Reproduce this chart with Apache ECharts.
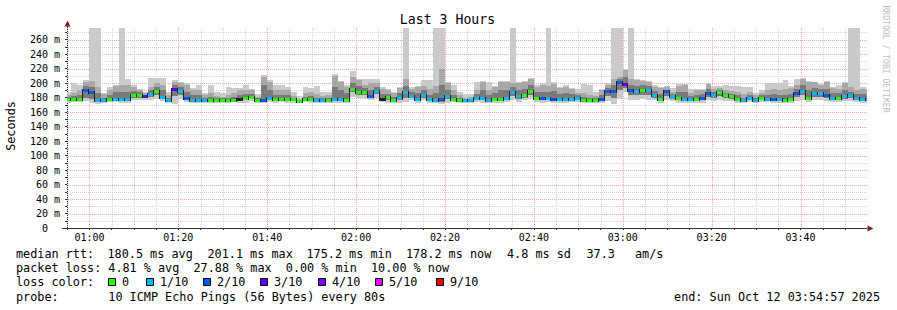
<!DOCTYPE html>
<html><head><meta charset="utf-8">
<script src="https://cdn.jsdelivr.net/npm/echarts@6/dist/echarts.min.js"></script>
<style>html,body{margin:0;padding:0;background:#fff}#c{width:897px;height:310px}</style>
</head><body><div id="c"></div>
<script>
// ---------------- data ----------------
const firstSampleTime = 3277;   // seconds of day of first sample (00:54:37)
const stepSeconds = 80;
const axisStart = 3297;         // 00:54:57
const axisEnd = 14097;          // 03:54:57

const median = [178,178,178,190,187,177,176,178,178,178,
 178,183,183.5,182.5,185,189,181,176.5,192.5,189.5,
 179,176.5,176.5,176.5,177,176.5,176.5,177,177,178,
 179.5,180.5,177,176.5,179,177.5,177.5,178.5,177.5,175.2,
 177.5,177.5,176.5,176.5,176.5,178,178,176.5,192.5,188,
 188,182,189.5,178,181,176.5,180,187,182,178,
 183.5,177.5,176.5,177.5,182,178.5,176.5,176,176,180,
 179,176.5,178.5,178.5,179,188,182,183,188.5,180,
 179.5,180,178.5,178.5,178,178.5,179.5,176.5,176.5,176.5,
 178,188.5,189,201.1,199,190,188.5,191,190,183,
 178.5,188.5,182,180,177.5,178,178.5,180,186.5,183,
 187.5,183,182,178.5,176.5,180,176.5,180,178.5,178.5,
 177.5,176.5,178.5,186.5,189.5,179.5,186,186,183,179,
 180,182,183,180,178.5,178.2];

const lossCount = [0,0,0,2,2,1,1,0,1,1,
 1,0,0,3,1,0,1,1,3,1,
 2,1,1,1,0,0,0,0,0,-1,
 0,0,0,2,1,0,0,0,0,0,
 0,0,1,1,0,1,1,0,0,0,
 0,2,1,-1,0,0,1,1,1,1,
 1,1,1,2,1,0,0,1,1,1,
 1,1,0,0,1,1,1,0,0,0,
 2,1,2,1,1,1,1,0,0,0,
 2,2,2,2,3,2,1,0,1,1,
 0,2,1,0,1,1,0,2,2,1,
 0,0,0,0,1,1,1,0,1,2,
 1,0,0,2,1,0,1,1,2,1,
 0,1,1,1,1,1];

const smokeTop1 = [188,200,197,204,276,276,186,194,198,276,
 205,198,192,188,207,207,207,188,204,202,
 200,193,197,186,197,188,186,194,193,193,
 197,192,185,211,204,197,197,195,187,182,
 194,193,196,187,188,212,203,197,217,206,
 206,206,206,195,192,187,194,276,194,196,
 204,204,276,276,202,197,188,185,185,202,
 203,202,196,203,203,276,202,203,207,197,
 200,276,201,195,197,193,192,199,197,188,
 192,200,276,276,219,276,205,204,203,197,
 195,196,193,199,199,192,192,192,200,196,
 196,197,196,196,195,195,186,190,200,200,
 200,204,196,206,207,203,202,199,203,195,
 198,201,276,276,194,192];

const smokeTop2 = [184,186,190,202,203,195,185,190,196,198,
 197,195,190,186,195,200,198,183,202,200,
 198,191,190,184,186,182,181,184,186,191,
 190,190,181,209,202,191,191,190,182,178.5,
 186,188,185,182,183,210,201,195,208,204,
 198,200,200,192,190,186,193,205,192,194,
 196,192,196,219,200,190,184,180,181,190,
 201,190,194,201,201,200,200,201,206,195,
 198,196,199,193,195,192,186,186,184,182,
 190,198,205,208,218,205,204,203,202,195,
 193,194,188,196,198,186,190,190,198.5,192,
 193,190,189,188,185,188,184,186,190,192,
 190,192,193,198,205,202,201,198,202,193,
 192,200,194,190,192,190];

const smokeTop3 = [181,182,184,196,195,186,180,184,187,188,
 187,189,187,184,190,194,190,179,198,195,
 188,184,183,180,181,179,179,180,181,184,
 185,185,179,197,191,184,184,184,180,177,
 181,182,180,179,179,194,190,186,200,196,
 193,191,195,185,185,181,186,196,187,186,
 190,184,186,198,191,184,180,178,178,185,
 190,183,186,190,190,194,191,192,197,187,
 188,188,189,185,186,185,183,181,180,179,
 184,193,197,205,208,197,196,197,196,189,
 185,191,185,188,187,182,184,185,192,187,
 190,186,185,183,180,184,180,183,184,185,
 184,184,185,192,197,190,193,192,192,186,
 186,191,188,185,185,184];

const smokeBot1 = [173,174,174,175,172,171,172,174,174,173,
 173,176,177,176,177,178,175,172,171,178,
 174,173,173,172,173,173,173,173,174,172,
 173,175,173,172,174,173,174,173,173,172,
 174,173,173,173,173,172,173,172,181,179,
 178,176,180,174,173,172,173,174,176,172,
 177,173,172,171,173,174,173,173,173,174,
 173,172,173,172,174,176,174,176,178,174,
 173,174,173,173,173,174,174,173,173,173,
 172,175,171,178,187,176,177,178,177,176,
 173,176,175,173,172,173,173,173,176,175,
 177,175,175,173,173,174,172,174,174,173,
 173,172,173,175,177,174,176,176,175,174,
 174,175,175,174,173,173];

const smokeBot2 = [176,176,176,180,178,174,174,176,176,176,
 176,180,180,179,181,184,178,174,182,184,
 177,175,175,174,175,175,175,175,176,175,
 176,178,175,174,177,175,176,176,175,174,
 176,175,175,175,175,175,176,174,187,184,
 183,179,185,176,177,174,177,180,179,175,
 180,175,174,174,178,176,175,174,174,177,
 176,174,176,175,176,182,178,180,183,177,
 176,177,176,176,175,176,177,175,175,175,
 175,182,180,190,193,183,183,184,183,180,
 176,182,178,176,175,175,176,176,181,179,
 182,179,178,176,175,177,174,177,176,176,
 175,174,176,181,183,177,181,181,179,176,
 177,178,179,177,176,175];

const yTickValues = [0,20,40,60,80,100,120,140,160,180,200,220,240,260];
const xTickLabels = ['01:00','01:20','01:40','02:00','02:20','02:40','03:00','03:20','03:40'];

const lossLegendLabels = ['0','1/10','2/10','3/10','4/10','5/10','9/10'];
const lossLegendColors = ['#26ff00','#00b8ff','#0059ff','#5e00ff','#7e00ff','#dd00ff','#ff0000'];
const lossLegendCounts = [0,1,2,3,4,5,9];

const statsRow1 = ['median rtt:','180.5 ms avg','201.1 ms max','175.2 ms min','178.2 ms now','4.8 ms sd','37.3','am/s'];
const statsRow2 = ['packet loss:','4.81 % avg','27.88 % max','0.00 % min','10.00 % now'];
const probeText = ['probe:','10 ICMP Echo Pings (56 Bytes) every 80s'];
const endText = 'end: Sun Oct 12 03:54:57 2025';

// ---------------- styling / layout ----------------
const MONO = '"DejaVu Sans Mono", "Liberation Mono", monospace';
const SMOKE_COLORS = ['#cacaca', '#a8a8a8', '#7a7a7a'];
const lossColorOf = {};
lossLegendCounts.forEach((c, i) => lossColorOf[c] = lossLegendColors[i]);
lossColorOf[-1] = '#202020';

function hm(s) { const p = s.split(':'); return (+p[0]) * 3600 + (+p[1]) * 60; }
function fmt(v) { const h = Math.floor(v / 3600), m = Math.floor((v % 3600) / 60); return String(h).padStart(2,'0') + ':' + String(m).padStart(2,'0'); }
const xTickValues = xTickLabels.map(hm);

const stepStarts = median.map((_, i) => firstSampleTime + i * stepSeconds);
const smokeData = median.map((m, i) => [stepStarts[i], stepStarts[i] + stepSeconds, smokeBot1[i], smokeTop1[i], smokeBot2[i], smokeTop2[i], smokeTop3[i]]);
const medianData = median.map((m, i) => [stepStarts[i], stepStarts[i] + stepSeconds, m, lossCount[i], i > 0 ? median[i - 1] : m]);

// grid line positions (axis ticks)
const gridData = [];
for (let v = 3300; v <= 13800; v += 300) gridData.push([v, 0, ((v - 3600) % 1200 === 0) ? 1 : 0]);
for (let v = 10; v <= 270; v += 10) gridData.push([v, 1, (v % 20 === 0) ? 1 : 0]);
const yMinorTicks = [];
for (let v = 0; v <= 270; v += 10) yMinorTicks.push(v);
const xMinorTicks = gridData.filter(d => d[1] === 0).map(d => d[0]);

function boxOf(cs) { return { x: cs.x, y: cs.y, width: cs.width, height: cs.height }; }

function smokeItem(params, api) {
  const box = boxOf(params.coordSys);
  const t0 = api.value(0), t1 = api.value(1);
  const layers = [[api.value(2), api.value(3), SMOKE_COLORS[0]],
                  [api.value(4), api.value(5), SMOKE_COLORS[1]],
                  [api.value(4), api.value(6), SMOKE_COLORS[2]]];
  const children = [];
  layers.forEach(([lo, hi, c]) => {
    const a = api.coord([t0, hi]), b = api.coord([t1, lo]);
    const x0 = Math.round(a[0]), x1 = Math.round(b[0]);
    const y0 = Math.round(a[1]), y1 = Math.round(b[1]);
    const r = echarts.graphic.clipRectByRect({ x: x0, y: y0, width: x1 - x0, height: y1 - y0 }, box);
    if (r) children.push({ type: 'rect', shape: r, style: { fill: c } });
  });
  return { type: 'group', children };
}

function medianItem(params, api) {
  const box = boxOf(params.coordSys);
  const t0 = api.value(0), t1 = api.value(1), m = api.value(2), l = api.value(3), prev = api.value(4);
  const a = api.coord([t0, m]), b = api.coord([t1, m]), pp = api.coord([t0, prev]);
  const x0 = Math.round(a[0]), x1 = Math.round(b[0]);
  const y = Math.round(a[1]), yp = Math.round(pp[1]);
  const children = [];
  const vy0 = Math.min(y, yp) - 1, vy1 = Math.max(y, yp) + 2;
  const v = echarts.graphic.clipRectByRect({ x: x0 - 1, y: vy0, width: 1, height: vy1 - vy0 }, box);
  if (v) children.push({ type: 'rect', shape: v, style: { fill: '#202020' } });
  const h = echarts.graphic.clipRectByRect({ x: x0, y: y - 1, width: x1 - x0, height: 3 }, box);
  if (h) children.push({ type: 'rect', shape: h, style: { fill: lossColorOf[l] || '#202020' } });
  return { type: 'group', children };
}

function gridItem(params, api) {
  const cs = params.coordSys;
  const v = api.value(0), dir = api.value(1), major = api.value(2);
  const style = { stroke: major ? '#f2a6a6' : '#d6d6d6', lineWidth: 1, lineDash: [1, 1] };
  if (dir === 0) {
    const x = Math.round(api.coord([v, 0])[0]) + 0.5;
    return { type: 'line', shape: { x1: x, y1: cs.y, x2: x, y2: cs.y + cs.height }, style };
  }
  const y = Math.round(api.coord([axisStart, v])[1]) + 0.5;
  return { type: 'line', shape: { x1: cs.x + 1, y1: y, x2: cs.x + cs.width, y2: y }, style };
}

// ---------------- chart ----------------
const chart = echarts.init(document.getElementById('c'), null, { renderer: 'svg' });

const graphics = [];
function txt(x, y, s, opts) {
  graphics.push(Object.assign({ type: 'text', x, y, silent: true,
    style: Object.assign({ text: s, font: '11.8px ' + MONO, fill: '#000', align: 'left', verticalAlign: 'middle' }, (opts && opts.style) || {}) },
    (opts && opts.rotation !== undefined) ? { rotation: opts.rotation } : {}));
}
txt(447.5, 19.5, 'Last 3 Hours', { style: { font: '13.2px ' + MONO, align: 'center' } });
txt(11, 126, 'Seconds', { rotation: Math.PI / 2, style: { align: 'center' } });
txt(886, 59, 'RRDTOOL / TOBI OETIKER', { rotation: -Math.PI / 2, style: { font: '8.1px ' + MONO, align: 'center', fill: '#bdbdbd' } });

const row1X = [16, 107.5, 207.5, 306.5, 406, 507, 586.5, 635];
statsRow1.forEach((s, i) => txt(row1X[i], 254, s));
const row2X = [16, 108.3, 193.5, 285.8, 371];
statsRow2.forEach((s, i) => txt(row2X[i], 268.2, s));
txt(16, 282.2, 'loss color:');
const boxX = [108, 146, 203, 260, 318, 375, 436];
lossLegendLabels.forEach((s, i) => {
  graphics.push({ type: 'rect', silent: true, shape: { x: boxX[i] + 0.5, y: 278.5, width: 7, height: 7 },
    style: { fill: lossLegendColors[i], stroke: '#000', lineWidth: 1 } });
  txt(boxX[i] + 14, 282.2, s);
});
txt(16, 296.6, probeText[0]);
txt(108.3, 296.6, probeText[1]);
txt(880, 296.6, endText, { style: { align: 'right' } });

// axis arrows and small extensions
graphics.push({ type: 'line', silent: true, shape: { x1: 67.5, y1: 25, x2: 67.5, y2: 29 }, style: { stroke: '#333', lineWidth: 1 } });
graphics.push({ type: 'line', silent: true, shape: { x1: 62, y1: 228.5, x2: 67, y2: 228.5 }, style: { stroke: '#333', lineWidth: 1 } });
graphics.push({ type: 'polygon', silent: true, shape: { points: [[67.5, 20.5], [64.5, 26.5], [70.5, 26.5]] }, style: { fill: '#7f1f1f' } });
graphics.push({ type: 'polygon', silent: true, shape: { points: [[873.5, 228.5], [867.5, 225.5], [867.5, 231.5]] }, style: { fill: '#7f1f1f' } });

const axisFont = { fontFamily: MONO, fontSize: 10, color: '#000' };

chart.setOption({
  animation: false,
  backgroundColor: '#ffffff',
  grid: { left: 67, top: 28, width: 800, height: 200, containLabel: false, outerBoundsMode: 'none' },
  xAxis: {
    type: 'value', min: axisStart, max: axisEnd,
    axisLine: { show: true, lineStyle: { color: '#333', width: 1 } },
    axisTick: { show: true, customValues: xMinorTicks, length: 2, lineStyle: { color: '#333' } },
    axisLabel: Object.assign({ customValues: xTickValues, formatter: fmt, margin: 4 }, axisFont),
    splitLine: { show: false }
  },
  yAxis: {
    type: 'value', min: 0, max: 276,
    axisLine: { show: true, lineStyle: { color: '#333', width: 1 } },
    axisTick: { show: true, customValues: yMinorTicks, length: 2, lineStyle: { color: '#333' } },
    axisLabel: Object.assign({
      customValues: yTickValues, margin: 7,
      formatter: v => v === 0 ? '{z|0}' : v + ' m',
      rich: { z: { fontFamily: MONO, fontSize: 10, color: '#000', padding: [0, 12, 0, 0] } }
    }, axisFont),
    splitLine: { show: false }
  },
  series: [
    { type: 'custom', name: 'grid', renderItem: gridItem, data: gridData, encode: { x: 0, y: 1 }, z: 1, silent: true },
    { type: 'custom', name: 'smoke', renderItem: smokeItem, data: smokeData, encode: { x: 0, y: 3 }, z: 2, silent: true },
    { type: 'custom', name: 'median', renderItem: medianItem, data: medianData, encode: { x: 0, y: 2 }, z: 3, silent: true }
  ],
  graphic: graphics
});
</script>
</body></html>
